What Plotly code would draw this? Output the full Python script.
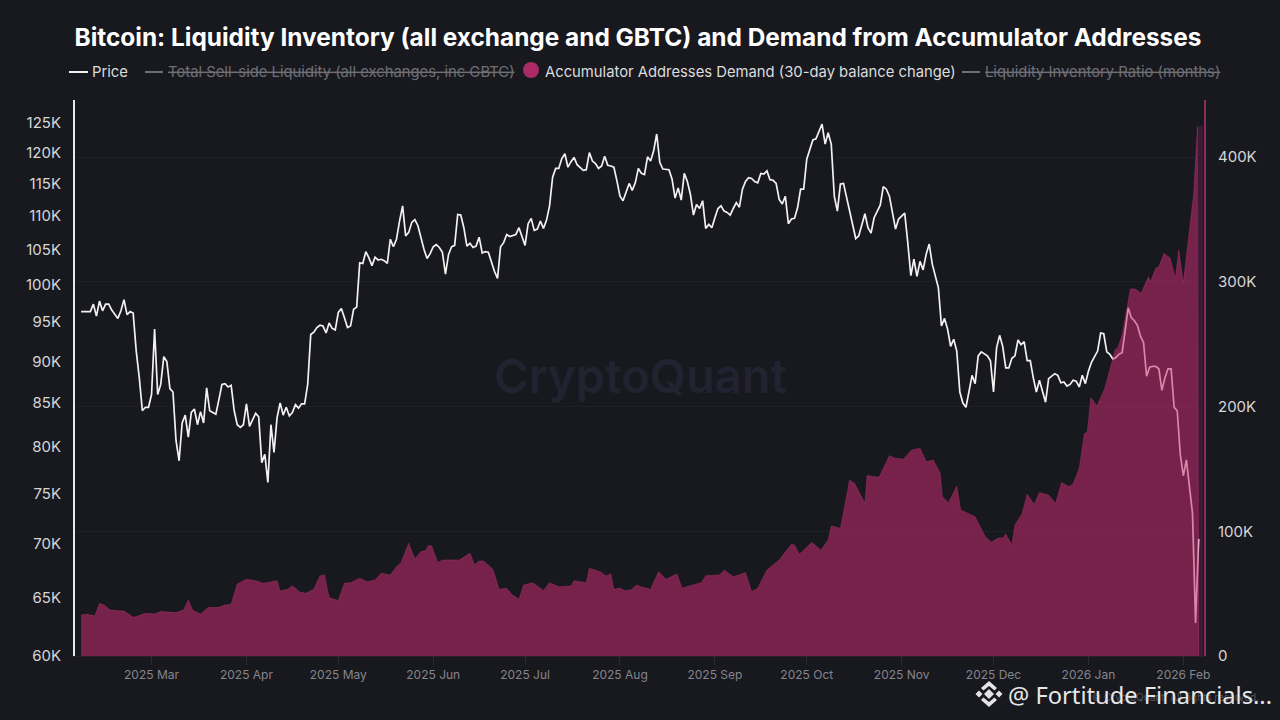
import pandas as pd
import plotly.graph_objects as go

# Preço diário em milhares de USD, a partir de 2025-02-06 (10 valores por linha)
price_start = "2025-02-06"
price_k = [
    96.4, 96.4, 96.4, 96.4, 97.4, 95.8, 97.8, 96.5, 97.4, 97.4,
    96.6, 96.0, 95.5, 96.5, 98.0, 96.0, 96.4, 96.2, 91.3, 88.0,
    84.1, 84.5, 84.5, 86.0, 94.1, 86.0, 87.2, 90.6, 90.0, 86.7,
    86.3, 80.7, 78.5, 82.7, 83.6, 81.1, 83.9, 84.3, 82.5, 84.0,
    82.7, 86.8, 84.1, 83.9, 83.7, 85.4, 87.2, 87.3, 86.9, 87.1,
    84.1, 82.5, 82.2, 82.5, 84.9, 82.3, 83.1, 83.8, 83.4, 78.3,
    79.2, 76.2, 82.5, 79.4, 83.3, 85.0, 83.6, 84.5, 83.5, 83.9,
    84.8, 84.4, 84.9, 84.9, 87.2, 93.4, 93.7, 94.3, 94.6, 94.5,
    93.6, 94.9, 94.2, 94.0, 96.3, 96.8, 95.6, 94.3, 94.5, 96.7,
    97.0, 103.1, 103.0, 104.7, 103.8, 102.7, 103.9, 103.5, 103.6, 103.4,
    103.0, 106.5, 105.4, 106.5, 109.2, 111.5, 107.0, 107.5, 109.0, 109.4,
    108.5, 106.7, 105.0, 103.7, 104.4, 105.4, 105.7, 105.3, 104.6, 101.5,
    104.3, 105.4, 105.6, 110.2, 110.1, 108.2, 105.5, 105.9, 105.3, 105.5,
    106.8, 104.5, 104.7, 104.6, 103.1, 101.9, 100.9, 105.4, 106.0, 107.2,
    106.9, 107.0, 107.2, 108.2, 106.8, 105.6, 108.8, 109.6, 107.8, 108.0,
    109.2, 108.1, 109.3, 111.5, 116.0, 117.4, 117.4, 119.0, 119.8, 117.6,
    118.5, 119.2, 118.0, 117.6, 117.1, 117.2, 120.0, 118.6, 118.2, 117.4,
    117.8, 119.4, 117.9, 117.8, 117.6, 115.4, 113.0, 112.3, 113.8, 115.0,
    113.9, 115.1, 117.4, 116.6, 116.4, 119.3, 118.6, 120.3, 123.1, 118.4,
    117.3, 117.2, 117.2, 115.7, 112.7, 114.3, 112.4, 116.6, 115.3, 113.3,
    110.1, 111.7, 111.1, 112.3, 108.1, 108.7, 108.2, 109.7, 111.1, 111.5,
    110.7, 110.5, 110.1, 111.1, 112.0, 111.3, 114.1, 115.3, 115.9, 115.8,
    115.3, 115.1, 116.6, 116.5, 117.0, 115.6, 115.5, 115.0, 112.5, 111.8,
    113.0, 108.8, 109.5, 109.6, 111.2, 114.1, 114.1, 118.9, 120.5, 122.1,
    122.3, 123.6, 124.8, 121.4, 123.3, 121.4, 113.0, 110.7, 114.9, 115.0,
    112.8, 110.7, 108.2, 106.6, 107.0, 108.5, 110.3, 108.2, 107.4, 109.7,
    110.7, 111.6, 114.5, 114.1, 113.0, 110.5, 108.0, 109.5, 109.9, 110.4,
    106.0, 101.3, 103.6, 101.2, 103.3, 102.1, 104.3, 105.8, 102.9, 101.2,
    99.6, 94.5, 95.5, 94.1, 91.9, 92.8, 91.3, 86.3, 85.0, 84.5,
    86.4, 88.3, 87.3, 90.7, 91.2, 90.9, 90.7, 90.1, 86.3, 91.7,
    93.3, 91.9, 89.2, 89.2, 90.4, 90.7, 92.7, 92.1, 92.5, 90.1,
    90.1, 88.0, 86.3, 87.7, 86.3, 85.1, 87.9, 88.2, 88.5, 88.3,
    87.4, 87.5, 87.0, 87.2, 87.7, 87.6, 86.9, 88.3, 87.3, 88.8,
    89.9, 90.6, 91.3, 93.6, 93.5, 91.2, 90.9, 90.3, 90.5, 90.9,
    91.1, 93.9, 96.9, 95.6, 95.2, 94.6, 93.2, 92.4, 88.2, 89.3,
    89.4, 89.4, 89.1, 86.5, 88.0, 89.1, 89.1, 84.5, 84.1, 79.2,
    76.9, 78.6, 75.6, 73.0, 62.8, 70.5,
]

# Demanda (mudança de saldo em 30 dias), em milhares de BTC; dias contados desde price_start
demand_day = [
    0, 2, 4.5, 6, 7.5, 9.5, 11.5, 14, 15.5, 17, 18, 21, 24, 26, 31, 33.5, 35, 36.5, 39, 41.5,
    45, 47, 49, 51, 54, 57, 59.5, 64, 65, 67.5, 69, 71.5, 73.5, 76, 78, 79.5, 81, 84, 86, 88,
    91, 93.5, 96, 98, 101, 103, 104.5, 107, 109, 111, 112.5, 113.5, 114.5, 116.5, 118, 123.5,
    127, 128.5, 130, 131.5, 134.5, 136.5, 139, 140.5, 143, 144.5, 147.5, 151, 153, 156, 160,
    161, 165, 166, 169.5, 171.5, 173, 174, 176, 177.5, 179.5, 181.5, 182.6, 186, 188.6, 191,
    194.6, 196.3, 198.6, 202.6, 204, 208.6, 210, 213, 217, 219, 221, 224, 228, 232, 233, 234.6,
    238.6, 241.6, 244, 245, 248, 251, 252.6, 256, 256.7, 260.6, 264, 266, 268.6, 271.3, 274,
    276, 278.3, 280.6, 281.3, 283.3, 286, 287.3, 292, 295.3, 297.3, 299.3, 301.3, 302, 304,
    305, 307.3, 309, 311.3, 313, 316, 318.3, 320.2, 322.6, 324, 326, 327.7, 328.6, 329.8,
    331.8, 334.4, 337.7, 338.7, 340, 342.7, 344.3, 346.2, 348.6, 349.3, 351, 352, 353.7,
    355.7, 357.4, 358.5, 360, 362, 363.4, 364.6, 365,
]
demand_k = [
    32.9, 33.4, 32.3, 42.2, 40.9, 36.9, 36.4, 36.1, 33.7, 31.0, 31.6, 34.2, 33.7, 35.6, 34.8, 36.9, 44.9, 36.4, 33.7, 38.8,
    39.0, 40.9, 41.4, 57.7, 61.5, 60.4, 58.3, 60.4, 52.1, 53.5, 56.4, 51.1, 50.3, 53.7, 64.2, 65.0, 46.8, 44.4, 58.3, 58.8,
    62.3, 59.6, 60.9, 66.3, 64.9, 71.6, 74.8, 90.3, 77.8, 83.7, 84.5, 88.5, 88.2, 74.8, 77.0, 77.0,
    82.3, 72.9, 76.2, 76.2, 69.5, 53.5, 54.3, 49.7, 45.4, 56.9, 58.8, 52.4, 58.8, 55.6, 56.1,
    60.4, 58.8, 70.3, 67.6, 64.2, 65.8, 53.5, 54.5, 52.4, 52.9, 56.9, 55.6, 53.5, 67.6, 61.5,
    65.8, 54.3, 56.1, 58.8, 64.4, 64.9, 69.0, 63.6, 66.8, 51.6, 54.3, 69.0, 77.0, 89.5, 89.0, 81.5,
    91.1, 85.0, 93.0, 104.2, 102.4, 141.1, 138.4, 122.4, 144.6, 143.2, 160.6, 158.5, 158.0, 165.2, 166.5,
    155.8, 157.1, 146.4, 127.7, 122.9, 136.3, 117.0, 111.7, 95.7, 91.1, 94.3, 94.9, 97.8, 89.0,
    105.0, 113.9, 129.6, 121.6, 131.0, 129.0, 122.4, 139.0, 135.8, 137.9, 150.5, 178.5, 179.0, 207.1,
    200.5, 214.8, 245.3, 247.7, 257.3, 294.2, 294.2, 290.7, 304.0, 300.0, 310.8, 312.0, 322.8,
    318.8, 302.8, 325.4, 299.3, 341.5, 370.9, 424.3, 0,
]

left_ticks = [60, 65, 70, 75, 80, 85, 90, 95, 100, 105, 110, 115, 120, 125]
left_labels = ["60K", "65K", "70K", "75K", "80K", "85K", "90K", "95K", "100K", "105K", "110K", "115K", "120K", "125K"]
right_ticks = [0, 100, 200, 300, 400]
right_labels = ["0", "100K", "200K", "300K", "400K"]

title_text = "Bitcoin: Liquidity Inventory (all exchange and GBTC) and Demand from Accumulator Addresses"

BG = "#18181f"
FONT = "Inter"

# Área do gráfico em pixels
PLOT_L, PLOT_R, PLOT_T, PLOT_B = 75, 1204, 100, 656


def xp(px):
    return (px - PLOT_L) / (PLOT_R - PLOT_L)


def yp(py):
    return (PLOT_B - py) / (PLOT_B - PLOT_T)


def poly(points):
    return "M " + " L ".join(f"{xp(x):.5f},{yp(y):.5f}" for x, y in points) + " Z"


start = pd.Timestamp(price_start)
price_dates = pd.date_range(start, periods=len(price_k), freq="D")
demand_dates = [start + pd.Timedelta(days=d) for d in demand_day]

fig = go.Figure()

# O preço fica por baixo: a área semitransparente deixa a linha rosa no fim
fig.add_trace(go.Scatter(
    x=price_dates, y=price_k, mode="lines", name="Price", yaxis="y",
    line=dict(color="#f2f2f2", width=1.7), showlegend=False,
))
fig.add_trace(go.Scatter(
    x=demand_dates, y=demand_k, mode="lines", fill="tozeroy", yaxis="y2",
    name="Accumulator Addresses Demand (30-day balance change)",
    line=dict(color="rgba(214,60,130,0.3)", width=1),
    fillcolor="rgba(198,44,112,0.55)", showlegend=False,
))

shapes = [
    # faixa escura à direita da área
    dict(type="rect", xref="paper", yref="paper", x0=xp(1198), x1=xp(1203), y0=0, y1=yp(126),
         fillcolor="#3a1b36", line_width=0, layer="below"),
    # marcadores da legenda
    dict(type="line", xref="paper", yref="paper", x0=xp(69), x1=xp(88), y0=yp(72), y1=yp(72),
         line=dict(color="#f2f2f2", width=2)),
    dict(type="line", xref="paper", yref="paper", x0=xp(145), x1=xp(163), y0=yp(72), y1=yp(72),
         line=dict(color="#6f6f76", width=2)),
    dict(type="circle", xref="paper", yref="paper", x0=xp(523), x1=xp(539), y0=yp(78), y1=yp(62),
         fillcolor="#a92a66", line_width=0),
    dict(type="line", xref="paper", yref="paper", x0=xp(962), x1=xp(980), y0=yp(72), y1=yp(72),
         line=dict(color="#6f6f76", width=2)),
]

# Logo da marca de água no canto inferior
logo = [
    [(989, 689), (994, 694), (989, 699), (984, 694)],
    [(979, 690.5), (982.5, 694), (979, 697.5), (975.5, 694)],
    [(999, 690.5), (1002.5, 694), (999, 697.5), (995.5, 694)],
    [(989, 681), (997, 688), (994.5, 690.5), (989, 686), (983.5, 690.5), (981, 688)],
    [(989, 707), (997, 700), (994.5, 697.5), (989, 702), (983.5, 697.5), (981, 700)],
]
for part in logo:
    shapes.append(dict(type="path", xref="paper", yref="paper", path=poly(part),
                       fillcolor="#e4e4e4", line_width=0))


def label(text, px, py, size=14.8, color="#dcdcdc", anchor="left", family=FONT, weight=400):
    return dict(text=text, xref="paper", yref="paper", x=xp(px), y=yp(py), showarrow=False,
                xanchor=anchor, yanchor="middle",
                font=dict(family=family, size=size, color=color, weight=weight))


annotations = [
    label("CryptoQuant", 640, 375, size=47, color="#222230", anchor="center", weight=600),
    label("Price", 90, 72),
    label("<s>Total Sell-side Liquidity (all exchanges, inc GBTC)</s>", 166, 72, color="#6f6f76"),
    label("Accumulator Addresses Demand (30-day balance change)", 543, 72),
    label("<s>Liquidity Inventory Ratio (months)</s>", 983, 72, color="#6f6f76"),
    label("© CryptoQuant. All rights reserved.", 1090, 697, size=10, color="#55555c"),
    label("@ Fortitude Financials...", 1006, 695, size=23.7, color="#e6e6e6", family="Noto Sans"),
]

fig.update_layout(
    width=1280, height=720,
    margin=dict(l=PLOT_L, r=1280 - PLOT_R, t=PLOT_T, b=720 - PLOT_B),
    paper_bgcolor=BG, plot_bgcolor=BG,
    showlegend=False, shapes=shapes, annotations=annotations,
    title=dict(text=title_text, x=638 / 1280, y=1 - 37 / 720, xanchor="center", yanchor="middle",
               font=dict(family=FONT, size=24.4, color="#ffffff", weight=700)),
    xaxis=dict(
        type="date", range=["2025-02-04", "2026-02-07 18:00"],
        tick0="2025-03-01", dtick="M1", tickformat="%Y %b",
        ticks="outside", ticklen=8, tickcolor="#2a2a33",
        tickfont=dict(family=FONT, size=12, color="#85858c"),
        showgrid=False, showline=True, linecolor="#2c2030", linewidth=1, zeroline=False,
    ),
    yaxis=dict(
        type="log", range=[1.77815, 2.11059],
        tickvals=left_ticks, ticktext=left_labels,
        ticks="outside", ticklen=9, tickcolor="rgba(0,0,0,0)",
        tickfont=dict(family=FONT, size=15, color="#d6d6d6"),
        showgrid=False, showline=True, linecolor="#e8e8e8", linewidth=2, zeroline=False,
    ),
    yaxis2=dict(
        overlaying="y", side="right", range=[0, 445.7],
        tickvals=right_ticks, ticktext=right_labels,
        ticks="outside", ticklen=9, tickcolor="rgba(0,0,0,0)",
        tickfont=dict(family=FONT, size=15, color="#d6d6d6"),
        showgrid=True, gridcolor="#1f1f27", gridwidth=1,
        showline=True, linecolor="#8a2c60", linewidth=2, zeroline=False,
    ),
)

fig.write_html("out.html", config={"displayModeBar": False},
               post_script="document.body.style.margin='0';document.body.style.background='#18181f';")
